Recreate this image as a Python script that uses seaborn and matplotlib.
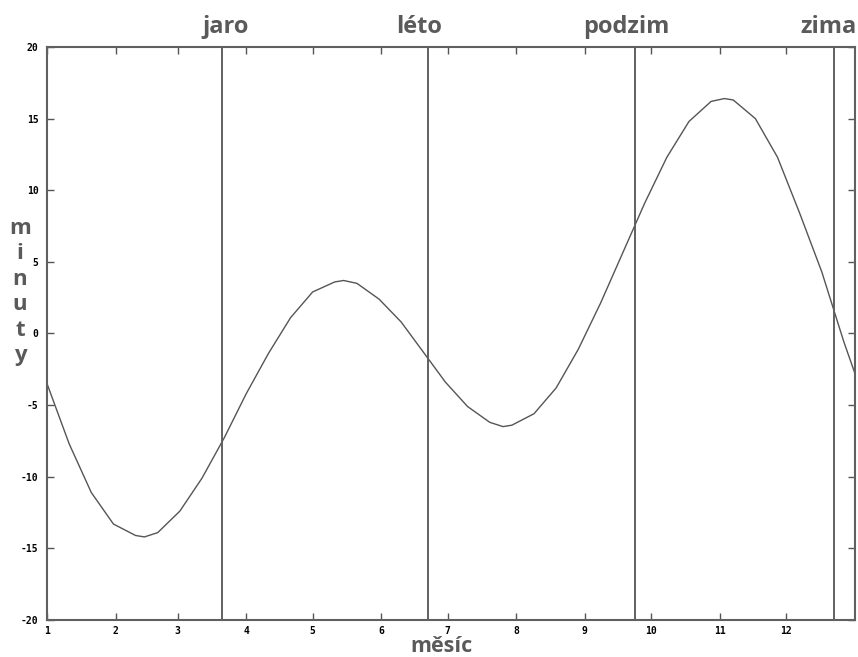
import numpy as np
import pandas as pd
import matplotlib
matplotlib.use("Agg")
import matplotlib.pyplot as plt
import seaborn as sns

# day of year -> equation of time (minutes)
days = [0, 10, 20, 30, 40, 44, 50, 60, 70, 80, 90, 100, 110, 120, 130, 134,
        140, 150, 160, 170, 180, 190, 200, 206, 210, 220, 230, 240, 250, 260,
        270, 280, 290, 300, 306, 310, 320, 330, 340, 350, 360, 365]
minutes = [-3.5, -7.7, -11.1, -13.3, -14.1, -14.2, -13.9, -12.4, -10.1, -7.3,
           -4.2, -1.4, 1.1, 2.9, 3.6, 3.7, 3.5, 2.4, 0.8, -1.3, -3.4, -5.1,
           -6.2, -6.5, -6.4, -5.6, -3.8, -1.1, 2.1, 5.6, 9.1, 12.3, 14.8, 16.2,
           16.4, 16.3, 15.0, 12.3, 8.4, 4.3, -0.6, -2.8]

# month starts (day of year) and their labels
month_starts = [0, 31, 59, 90, 120, 151, 181, 212, 243, 273, 304, 334]
month_labels = [str(m) for m in range(1, 13)]

# equinoxes / solstices
season_days = [79, 172, 265.5, 355.5]
season_names = ["jaro", "léto", "podzim", "zima"]

yticks = [-20, -15, -10, -5, 0, 5, 10, 15, 20]

df = pd.DataFrame({"den": days, "minuty": minutes})

sns.set_style("white")
plt.rcParams["font.family"] = ["Open Sans", "DejaVu Sans"]

fig = plt.figure(figsize=(8.58, 6.57), dpi=100)
ax = fig.add_axes([0.0548, 0.0563, 0.9417, 0.8722])

sns.lineplot(data=df, x="den", y="minuty", ax=ax, color="#555555", linewidth=1.0)

gray = "#5a5a5a"
label_shift = [3, -6, -6, -4]  # points, to sit the labels like the original
for d, name, dx in zip(season_days, season_names, label_shift):
    ax.axvline(d, color="#606060", linewidth=1.4)
    ax.annotate(name, xy=(d, 1.024), xycoords=ax.get_xaxis_transform(),
                xytext=(dx, 0), textcoords="offset points", ha="center",
                va="baseline", fontsize=17, fontweight="bold", color=gray,
                annotation_clip=False)

ax.set_xlim(0, 365)
ax.set_ylim(-20, 20)
ax.set_xticks(month_starts)
ax.set_xticklabels(month_labels)
ax.set_yticks(yticks)
ax.set_yticklabels([str(v) for v in yticks])

for lbl in ax.get_xticklabels() + ax.get_yticklabels():
    lbl.set_fontfamily("DejaVu Sans Mono")
    lbl.set_fontweight("bold")
    lbl.set_fontsize(7)
    lbl.set_color("black")

ax.tick_params(direction="in", length=5, width=1, color="#555555",
               top=True, right=True, bottom=True, left=True, pad=6)
ax.tick_params(axis="x", pad=4)
for s in ax.spines.values():
    s.set_color("#606060")
    s.set_linewidth(1.5)

ax.set_xlabel("")
ax.set_ylabel("")
fig.text(442 / 858, 1 - 652 / 657, "měsíc", ha="center", va="baseline",
         fontsize=15.5, fontweight="bold", color=gray)
fig.text(20 / 858, 1 - 218 / 657, "m\ni\nn\nu\nt\ny", ha="center", va="top",
         fontsize=16, fontweight="bold", color=gray, linespacing=1.28)

fig.savefig("out.png", dpi=100)
